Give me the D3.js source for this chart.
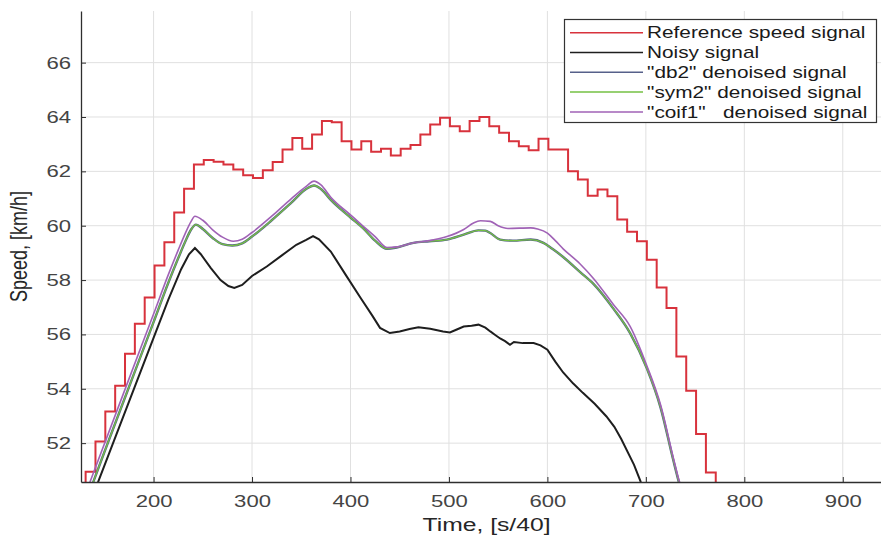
<!DOCTYPE html>
<html>
<head>
<meta charset="utf-8">
<script src="https://cdn.jsdelivr.net/npm/d3@7"></script>
<style>
    body { margin: 0; background: #fff; }
    text { font-family: "Liberation Sans", Arial, sans-serif; }
</style>
</head>
<body>
<svg id="chart" width="881" height="537"></svg>
<script>

// reference speed signal, stepped (value holds from each time until the next)
const refTime = [121, 131, 141, 151, 161, 171, 181, 191, 201, 211, 221, 231, 241, 251, 261, 271, 281, 291, 301, 311,
    321, 331, 341, 351, 361, 371, 381, 391, 401, 411, 421, 431, 441, 451, 461, 471, 481, 491, 501, 511,
    521, 531, 541, 551, 561, 571, 581, 591, 601, 611, 621, 631, 641, 651, 661, 671, 681, 691, 701, 711,
    721, 731, 741, 751, 761, 771, 781];
const refSpeed = [50.40, 50.95, 52.06, 53.16, 54.11, 55.29, 56.39, 57.36, 58.54, 59.39, 60.49, 61.36, 62.25, 62.42, 62.35, 62.25, 62.07, 61.86, 61.76, 62.04,
    62.34, 62.80, 63.23, 62.83, 63.36, 63.85, 63.81, 63.11, 62.80, 63.11, 62.72, 62.83, 62.58, 62.83, 62.97, 63.36, 63.72, 63.97, 63.66, 63.48,
    63.85, 64.00, 63.66, 63.42, 63.11, 62.92, 62.78, 63.20, 62.80, 62.80, 62.00, 61.70, 61.10, 61.33, 61.08, 60.23, 59.78, 59.43, 58.75, 57.73,
    56.97, 55.19, 53.93, 52.34, 50.92, 50.40, 50.40];

const noisyTime = [126, 143.9, 200, 215, 228, 236, 242, 248, 258, 268, 276, 282, 290, 300, 315, 330, 345, 355, 362, 368,
    380, 395, 410, 422, 430, 440, 450, 460, 469, 481, 494, 501, 508, 515, 523, 530, 537, 542, 547, 552,
    557, 562, 566, 575, 586, 593, 600, 608, 616, 626, 636, 648, 660, 668, 675, 688, 694.6, 698];
const noisySpeed = [48.9, 50.59, 55.87, 57.28, 58.4, 58.95, 59.18, 58.95, 58.45, 58.0, 57.78, 57.71, 57.82, 58.15, 58.5, 58.9, 59.3, 59.48, 59.62, 59.5,
    59.05, 58.2, 57.36, 56.7, 56.24, 56.05, 56.11, 56.2, 56.26, 56.21, 56.11, 56.07, 56.18, 56.29, 56.32, 56.36, 56.25, 56.11, 55.98, 55.85,
    55.75, 55.62, 55.72, 55.68, 55.68, 55.6, 55.44, 55.0, 54.6, 54.2, 53.85, 53.45, 52.98, 52.6, 52.15, 51.2, 50.59, 50.3];

// db2 and sym2 give the same result, so db2 lies under sym2
const db2Time = [126, 139, 200, 215, 225, 232, 238, 243, 250, 260, 270, 280, 290, 300, 320, 340, 355, 363, 370, 380,
    400, 413, 425, 437, 447, 464, 480, 498, 515, 530, 537, 542, 552, 565, 583, 596, 605, 616, 633, 647,
    667, 684, 701, 715, 728, 734, 738];
const db2Speed = [49.3, 50.59, 56.45, 57.9, 58.8, 59.4, 59.85, 60.04, 59.88, 59.55, 59.32, 59.27, 59.35, 59.6, 60.2, 60.85, 61.35, 61.48, 61.35, 60.95,
    60.3, 59.9, 59.45, 59.15, 59.2, 59.37, 59.43, 59.49, 59.67, 59.83, 59.82, 59.73, 59.49, 59.45, 59.49, 59.37, 59.15, 58.85, 58.3, 57.85,
    56.95, 56.05, 54.75, 53.3, 51.35, 50.5, 50.0];

const sym2Time = [126, 139, 200, 215, 225, 232, 238, 243, 250, 260, 270, 280, 290, 300, 320, 340, 355, 363, 370, 380,
    400, 413, 425, 437, 447, 464, 480, 498, 515, 530, 537, 542, 552, 565, 583, 596, 605, 616, 633, 647,
    667, 684, 701, 715, 728, 734, 738];
const sym2Speed = [49.3, 50.59, 56.45, 57.9, 58.8, 59.4, 59.85, 60.04, 59.88, 59.55, 59.32, 59.27, 59.35, 59.6, 60.2, 60.85, 61.35, 61.48, 61.35, 60.95,
    60.3, 59.9, 59.45, 59.15, 59.2, 59.37, 59.43, 59.49, 59.67, 59.83, 59.82, 59.73, 59.49, 59.45, 59.49, 59.37, 59.15, 58.85, 58.3, 57.85,
    56.95, 56.05, 54.75, 53.3, 51.35, 50.5, 50.0];

const coifTime = [126, 135.6, 200, 215, 225, 232, 238, 242, 250, 260, 270, 281, 290, 300, 320, 340, 355, 363, 370, 380,
    400, 413, 425, 437, 447, 464, 480, 498, 515, 525, 532, 542, 550, 560, 583, 590, 600, 608, 616, 633,
    647, 667, 684, 701, 715, 728, 734, 738];
const coifSpeed = [49.66, 50.59, 56.75, 58.2, 59.1, 59.7, 60.15, 60.35, 60.2, 59.85, 59.58, 59.43, 59.5, 59.75, 60.35, 61.0, 61.45, 61.64, 61.5, 61.05,
    60.4, 59.98, 59.6, 59.2, 59.22, 59.37, 59.45, 59.6, 59.86, 60.1, 60.18, 60.16, 60.0, 59.9, 59.92, 59.88, 59.73, 59.45, 59.15, 58.6,
    58.05, 57.1, 56.3, 54.85, 53.4, 51.45, 50.6, 50.2];

const xTicks = [200, 300, 400, 500, 600, 700, 800, 900];
const yTicks = [52, 54, 56, 58, 60, 62, 64, 66];
const legendLabels = ["Reference speed signal", "Noisy signal", "\"db2\" denoised signal", "\"sym2\" denoised signal", "\"coif1\"   denoised signal"];


const plotLeft = 81, plotRight = 892, plotTop = 11, plotBottom = 482;
const stretch = 1.3;   // the picture is wider than the original figure

const svg = d3.select("#chart");
const x = d3.scaleLinear().domain([126.3, 950]).range([plotLeft, plotRight]);
const y = d3.scaleLinear().domain([50.57, 67.9]).range([plotBottom, plotTop]);

svg.append("clipPath").attr("id", "plotClip")
    .append("rect")
    .attr("x", plotLeft).attr("y", plotTop)
    .attr("width", plotRight - plotLeft).attr("height", plotBottom - plotTop);

// grid
let grid = svg.append("g").attr("stroke", "#e0e0e0").attr("stroke-width", 1);
grid.selectAll(".vgrid").data(xTicks).enter().append("line")
    .attr("class", "vgrid")
    .attr("x1", d => x(d)).attr("x2", d => x(d))
    .attr("y1", plotTop).attr("y2", plotBottom);
grid.selectAll(".hgrid").data(yTicks).enter().append("line")
    .attr("class", "hgrid")
    .attr("x1", plotLeft).attr("x2", plotRight)
    .attr("y1", d => y(d)).attr("y2", d => y(d));

// lines
let lines = svg.append("g").attr("clip-path", "url(#plotClip)").attr("fill", "none");

let stepLine = d3.line().x(d => x(d[0])).y(d => y(d[1])).curve(d3.curveStepAfter);
let plainLine = d3.line().x(d => x(d[0])).y(d => y(d[1]));
let smoothLine = d3.line().x(d => x(d[0])).y(d => y(d[1])).curve(d3.curveMonotoneX);

lines.append("path").datum(d3.zip(refTime, refSpeed))
    .attr("d", stepLine).attr("stroke", "#d8323c").attr("stroke-width", 2);
lines.append("path").datum(d3.zip(noisyTime, noisySpeed))
    .attr("d", plainLine).attr("stroke", "#1e1e1e").attr("stroke-width", 2);
lines.append("path").datum(d3.zip(db2Time, db2Speed))
    .attr("d", smoothLine).attr("stroke", "#56608a").attr("stroke-width", 2.4);
lines.append("path").datum(d3.zip(sym2Time, sym2Speed))
    .attr("d", smoothLine).attr("stroke", "#74c043").attr("stroke-width", 1.3);
lines.append("path").datum(d3.zip(coifTime, coifSpeed))
    .attr("d", smoothLine).attr("stroke", "#a062b6").attr("stroke-width", 1.6);

// axes
let xAxis = svg.append("g")
    .attr("transform", "translate(0," + plotBottom + ")")
    .call(d3.axisBottom(x).tickValues(xTicks).tickSizeInner(-5).tickSizeOuter(0));
xAxis.selectAll("text")
    .attr("y", 25).attr("dy", 0)
    .attr("transform", "scale(" + stretch + ",1)");

let yAxis = svg.append("g")
    .attr("transform", "translate(" + plotLeft + ",0)")
    .call(d3.axisLeft(y).tickValues(yTicks).tickSizeInner(-5).tickSizeOuter(0));
yAxis.selectAll("text")
    .attr("x", 0)
    .attr("transform", "translate(-10,0) scale(" + stretch + ",1)");

svg.selectAll(".domain").attr("stroke", "#2e2e2e").attr("stroke-width", 1.3);
svg.selectAll(".tick line").attr("stroke", "#2e2e2e");
svg.selectAll(".tick text")
    .attr("font-family", "Liberation Sans, Arial, sans-serif")
    .attr("font-size", 17)
    .attr("fill", "#444");
xAxis.attr("font-family", null);
yAxis.attr("font-family", null);

svg.append("text")
    .attr("transform", "translate(" + ((plotLeft + plotRight) / 2) + ",531) scale(" + stretch + ",1)")
    .attr("text-anchor", "middle")
    .attr("font-size", 19)
    .attr("fill", "#262626")
    .text("Time, [s/40]");

svg.append("text")
    .attr("transform", "translate(27," + ((plotTop + plotBottom) / 2) + ") rotate(-90) scale(1," + stretch + ")")
    .attr("text-anchor", "middle")
    .attr("font-size", 18)
    .attr("fill", "#262626")
    .text("Speed, [km/h]");

// legend
const legendColors = ["#d8323c", "#1e1e1e", "#56608a", "#74c043", "#a062b6"];
let legend = svg.append("g");
legend.append("rect")
    .attr("x", 564.5).attr("y", 19.5)
    .attr("width", 312).attr("height", 103)
    .attr("fill", "#fff").attr("stroke", "#333").attr("stroke-width", 1.2);

let rows = legend.selectAll(".row").data(legendLabels).enter().append("g")
    .attr("class", "row")
    .attr("transform", (d, i) => "translate(0," + (32.7 + i * 19.8) + ")");
rows.append("line")
    .attr("x1", 570).attr("x2", 643)
    .attr("stroke", (d, i) => legendColors[i])
    .attr("stroke-width", 1.5);
rows.append("text")
    .attr("transform", "translate(647,0) scale(" + stretch + ",1)")
    .attr("dy", "0.36em")
    .attr("font-size", 16)
    .attr("fill", "#1a1a1a")
    .style("white-space", "pre")
    .text(d => d);

</script>
</body>
</html>
